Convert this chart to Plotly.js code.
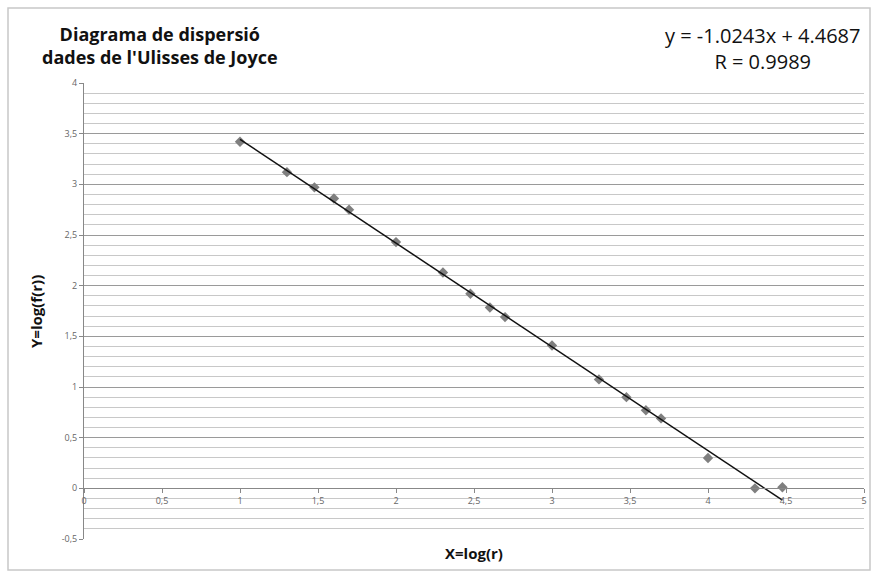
<!DOCTYPE html>
<html><head><meta charset="utf-8">
<script src="https://cdn.plot.ly/plotly-3.0.1.min.js"></script>
<style>html,body{margin:0;padding:0;background:#fff}#c{width:876px;height:578px}</style>
</head><body><div id="c"></div>
<script>
const logRank = [1, 1.301, 1.477, 1.602, 1.699, 2, 2.301, 2.477, 2.602, 2.699, 3, 3.301, 3.477, 3.602, 3.699, 4, 4.301, 4.477];
const logFreq = [3.42, 3.12, 2.97, 2.86, 2.75, 2.43, 2.13, 1.92, 1.785, 1.69, 1.41, 1.075, 0.90, 0.77, 0.69, 0.30, 0.0, 0.01];
const slope = -1.0243, intercept = 4.4687;
const fitX = [logRank[0], logRank[logRank.length-1]];
const fitY = fitX.map(x => slope*x + intercept);
const xTicks = [0,0.5,1,1.5,2,2.5,3,3.5,4,4.5,5];
const xTickText = ["0","0,5","1","1,5","2","2,5","3","3,5","4","4,5","5"];
const yTicks = [-0.5,0,0.5,1,1.5,2,2.5,3,3.5,4];
const yTickText = ["-0,5","0","0,5","1","1,5","2","2,5","3","3,5","4"];
const yRange = [-0.5, 4];

const traces = [
  {x: logRank, y: logFreq, mode: 'markers', type: 'scatter',
   marker: {symbol: 'diamond', size: 8, color: '#7f7f7f'}},
  {x: fitX, y: fitY, mode: 'lines', type: 'scatter',
   line: {color: '#111111', width: 1.5}}
];
const font = "Open Sans, sans-serif";
const layout = {
  width: 876, height: 578,
  margin: {l: 84, r: 12, t: 83, b: 39},
  paper_bgcolor: '#fff', plot_bgcolor: '#fff',
  showlegend: false,
  font: {family: font, color: '#333'},
  xaxis: {
    range: [0, 5], tickvals: xTicks, ticktext: xTickText,
    anchor: 'free', position: (0 - yRange[0])/(yRange[1]-yRange[0]),
    showgrid: false, zeroline: false, showline: true, linecolor: '#888', linewidth: 1,
    ticks: 'outside', ticklen: 4, tickcolor: '#888',
    tickfont: {size: 9, color: '#666', family: font},
    title: {text: ''}
  },
  yaxis: {
    range: yRange, tickvals: yTicks, ticktext: yTickText,
    showgrid: true, gridcolor: '#9a9a9a', gridwidth: 1,
    minor: {dtick: 0.1, showgrid: true, gridcolor: '#c8c8c8', gridwidth: 1},
    zeroline: false, showline: true, linecolor: '#888', linewidth: 1,
    ticks: 'outside', ticklen: 4, tickcolor: '#888',
    tickfont: {size: 9, color: '#666', family: font},
    title: {text: ''}
  },
  annotations: [
    {text: '<b>Diagrama de dispersió<br>dades de l\'Ulisses de Joyce</b>', xref: 'paper', yref: 'paper',
     x: (160-84)/780, y: 1 + (83-46)/456, xanchor: 'center', yanchor: 'middle', showarrow: false,
     font: {size: 18, color: '#111', family: font}, align: 'center'},
    {text: 'y = -1.0243x + 4.4687<br>R = 0.9989', xref: 'paper', yref: 'paper',
     x: (762-84)/780, y: 1 + (83-48)/456, xanchor: 'center', yanchor: 'middle', showarrow: false,
     font: {size: 20, color: '#111', family: font}, align: 'center'},
    {text: '<b>X=log(r)</b>', xref: 'paper', yref: 'paper',
     x: (474-84)/780, y: -(553-539)/456, xanchor: 'center', yanchor: 'middle', showarrow: false,
     font: {size: 15, color: '#111', family: font}},
    {text: '<b>Y=log(f(r))</b>', xref: 'paper', yref: 'paper', textangle: -90,
     x: -(84-36)/780, y: (539-312)/456, xanchor: 'center', yanchor: 'middle', showarrow: false,
     font: {size: 15, color: '#111', family: font}}
  ],
  shapes: [
    {type: 'rect', xref: 'paper', yref: 'paper', x0: -76/780, x1: 1 + 6/780, y0: -31/456, y1: 1 + 75/456,
     line: {color: '#c8c8c8', width: 1.5}}
  ]
};
Plotly.newPlot('c', traces, layout, {displayModeBar: false, staticPlot: true});
</script></body></html>
